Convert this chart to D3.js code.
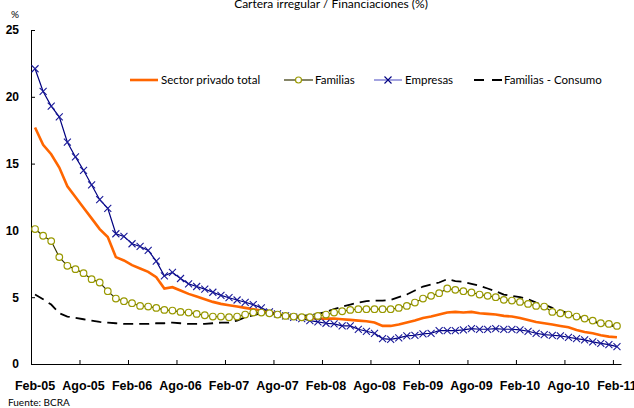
<!DOCTYPE html>
<html lang="es">
<head>
  <meta charset="UTF-8">
  <title>Cartera irregular / Financiaciones (%)</title>
  <script src="https://d3js.org/d3.v7.min.js"></script>
  <style>
    body { margin: 0; background: white; }
    svg { display: block; font-family: Lato, "Open Sans", sans-serif; }
    .axis text { font-weight: bold; font-size: 12px; fill: #000; }
    .xlab text { font-size: 12.5px; }
    .axis path, .axis line { stroke: #000; stroke-width: 1; }
  </style>
</head>
<body>
  <svg id="chart" width="634" height="408"></svg>
  <script>
    // Monthly series Feb-05 .. Feb-11 (73 months)
    const monthNames = ["Ene", "Feb", "Mar", "Abr", "May", "Jun", "Jul", "Ago", "Sep", "Oct", "Nov", "Dic"];
    const months = d3.range(73).map(i => {
      const m = (1 + i) % 12, yr = 5 + Math.floor((1 + i) / 12);
      return monthNames[m] + "-" + String(yr).padStart(2, "0");
    });
    const yTicks = [0, 5, 10, 15, 20, 25];

    const sectorTotal = [17.7, 16.4, 15.7, 14.7, 13.3, 12.5, 11.7, 10.9, 10.1, 9.5,
      8.0, 7.75, 7.4, 7.15, 6.9, 6.5, 5.65, 5.75, 5.5, 5.25,
      5.05, 4.85, 4.65, 4.5, 4.4, 4.3, 4.2, 4.1, 4.0, 3.9,
      3.75, 3.6, 3.55, 3.5, 3.45, 3.4, 3.4, 3.4, 3.35, 3.3,
      3.25, 3.2, 3.1, 2.85, 2.85, 2.95, 3.1, 3.25, 3.45, 3.55,
      3.7, 3.85, 3.9, 3.85, 3.9, 3.8, 3.75, 3.7, 3.6, 3.55,
      3.45, 3.3, 3.15, 3.05, 2.95, 2.85, 2.75, 2.55, 2.4, 2.3,
      2.15, 2.05, 2.0];
    const familias = [10.1, 9.6, 9.2, 8.0, 7.35, 7.1, 6.8, 6.35, 6.1, 5.45,
      4.9, 4.7, 4.55, 4.35, 4.3, 4.2, 4.05, 4.0, 3.9, 3.85,
      3.75, 3.65, 3.55, 3.55, 3.5, 3.55, 3.7, 3.85, 3.85, 3.8,
      3.7, 3.6, 3.55, 3.5, 3.5, 3.6, 3.7, 3.85, 3.95, 4.05,
      4.1, 4.1, 4.1, 4.1, 4.1, 4.2, 4.35, 4.6, 4.9, 5.1,
      5.3, 5.65, 5.55, 5.45, 5.35, 5.2, 5.1, 5.0, 4.8, 4.75,
      4.65, 4.5, 4.35, 4.3, 3.9, 3.8, 3.7, 3.55, 3.4, 3.25,
      3.05, 3.0, 2.85];
    const empresas = [22.1, 20.4, 19.3, 18.5, 16.6, 15.5, 14.5, 13.4, 12.3, 11.65,
      9.75, 9.55, 9.0, 8.8, 8.5, 7.7, 6.6, 6.85, 6.4, 6.0,
      5.8, 5.6, 5.37, 5.14, 4.96, 4.79, 4.62, 4.45, 4.2, 3.9,
      3.75, 3.6, 3.5, 3.4, 3.25, 3.15, 3.05, 3.0, 2.85, 2.85,
      2.6, 2.45, 2.3, 1.9, 1.85, 1.95, 2.1, 2.15, 2.25, 2.3,
      2.5, 2.5, 2.5, 2.55, 2.65, 2.6, 2.6, 2.65, 2.6, 2.6,
      2.55, 2.45, 2.3, 2.2, 2.15, 2.1, 2.0, 1.9, 1.8, 1.65,
      1.55, 1.45, 1.3];
    const consumo = [5.2, 4.85, 4.45, 3.8, 3.55, 3.45, 3.35, 3.25, 3.15, 3.1,
      3.05, 3.0, 3.0, 3.0, 3.0, 3.05, 3.05, 3.1, 3.05, 3.0,
      3.0, 3.0, 3.05, 3.1, 3.1, 3.25, 3.5, 3.65, 3.8, 3.8,
      3.7, 3.65, 3.6, 3.6, 3.65, 3.75, 3.9, 4.1, 4.3, 4.45,
      4.6, 4.7, 4.75, 4.75, 4.8, 5.0, 5.2, 5.5, 5.8, 5.95,
      6.1, 6.35, 6.2, 6.15, 6.0, 5.85, 5.65, 5.45, 5.2, 5.1,
      5.0, 4.85, 4.6, 4.45, 4.2, 4.0, 3.8, 3.6, 3.4, 3.2,
      3.0, 2.9, 2.8];

    const svg = d3.select("#chart");
    const plotLeft = 31, plotRight = 621, plotTop = 30, plotBottom = 364;

    const x = d3.scaleBand().domain(months).range([plotLeft, plotRight]).paddingInner(0).paddingOuter(0);
    const xIdx = d3.scaleLinear().domain([0, months.length]).range([plotLeft, plotRight]);
    const y = d3.scaleLinear().domain([0, 25]).range([plotBottom, plotTop]);
    const cx = (d, i) => x(months[i]) + x.bandwidth() / 2;

    // Title (top edge clipped in the source image)
    svg.append("text").attr("x", 331).attr("y", 8).attr("text-anchor", "middle")
      .attr("font-size", 12).text("Cartera irregular / Financiaciones (%)");
    svg.append("text").attr("x", 15).attr("y", 18).attr("text-anchor", "middle")
      .attr("font-size", 10).text("%");

    // Y axis: ticks point inward
    svg.append("g").attr("class", "axis").attr("transform", `translate(${plotLeft},0)`)
      .call(d3.axisLeft(y).tickValues(yTicks).tickSizeInner(-4).tickSizeOuter(0).tickPadding(12));

    // X axis: tick marks on category boundaries every 6 months
    const tickIdx = d3.range(0, months.length, 6);
    svg.append("g").attr("class", "axis").attr("transform", `translate(0,${plotBottom})`)
      .call(d3.axisBottom(xIdx).tickValues(tickIdx).tickSizeInner(-4).tickSizeOuter(0).tickFormat(""));
    // X labels centred on the category
    svg.append("g").attr("class", "axis xlab").attr("transform", `translate(0,${plotBottom})`)
      .call(d3.axisBottom(x).tickValues(tickIdx.map(i => months[i])).tickSize(0).tickPadding(17))
      .call(g => g.select(".domain").remove());

    svg.append("text").attr("x", 8).attr("y", 406).attr("font-size", 10).text("Fuente: BCRA");

    const line = d3.line().x(cx).y(d => y(d));

    // Familias - Consumo (dashed)
    svg.append("path").datum(consumo).attr("d", line).attr("fill", "none")
      .attr("stroke", "#000").attr("stroke-width", 1.8).attr("stroke-dasharray", "10,6");

    // Sector privado total
    svg.append("path").datum(sectorTotal).attr("d", line).attr("fill", "none")
      .attr("stroke", "#ff6600").attr("stroke-width", 2.6);

    // Empresas with x markers
    svg.append("path").datum(empresas).attr("d", line).attr("fill", "none")
      .attr("stroke", "#000080").attr("stroke-width", 1.2);
    svg.append("g").selectAll("path").data(empresas).join("path")
      .attr("transform", (d, i) => `translate(${cx(d, i)},${y(d)})`)
      .attr("d", "M-3.5,-3.5L3.5,3.5M-3.5,3.5L3.5,-3.5")
      .attr("stroke", "#1a1a99").attr("stroke-width", 1.1);

    // Familias with open circles
    svg.append("path").datum(familias).attr("d", line).attr("fill", "none")
      .attr("stroke", "#333300").attr("stroke-width", 1.2);
    svg.append("g").selectAll("circle").data(familias).join("circle")
      .attr("cx", cx).attr("cy", d => y(d)).attr("r", 3.3)
      .attr("fill", "#fff").attr("stroke", "#999900").attr("stroke-width", 1.2);

    // Legend
    const lg = svg.append("g").attr("font-size", 11.5);
    const ly = 80;
    lg.append("line").attr("x1", 130).attr("x2", 158).attr("y1", ly).attr("y2", ly)
      .attr("stroke", "#ff6600").attr("stroke-width", 2.6);
    lg.append("text").attr("x", 161).attr("y", ly).attr("dy", "0.35em").text("Sector privado total");

    lg.append("line").attr("x1", 284).attr("x2", 313).attr("y1", ly).attr("y2", ly)
      .attr("stroke", "#333300").attr("stroke-width", 1.2);
    lg.append("circle").attr("cx", 298.5).attr("cy", ly).attr("r", 3)
      .attr("fill", "#fff").attr("stroke", "#999900").attr("stroke-width", 1.2);
    lg.append("text").attr("x", 315).attr("y", ly).attr("dy", "0.35em").text("Familias");

    lg.append("line").attr("x1", 374).attr("x2", 402).attr("y1", ly).attr("y2", ly)
      .attr("stroke", "#6666cc").attr("stroke-width", 1.2);
    lg.append("path").attr("transform", `translate(388,${ly})`)
      .attr("d", "M-3.5,-3.5L3.5,3.5M-3.5,3.5L3.5,-3.5")
      .attr("stroke", "#000080").attr("stroke-width", 1.1);
    lg.append("text").attr("x", 405).attr("y", ly).attr("dy", "0.35em").text("Empresas");

    lg.append("line").attr("x1", 474).attr("x2", 502).attr("y1", ly).attr("y2", ly)
      .attr("stroke", "#000").attr("stroke-width", 1.8).attr("stroke-dasharray", "10,8");
    lg.append("text").attr("x", 504).attr("y", ly).attr("dy", "0.35em").text("Familias - Consumo");
  </script>
</body>
</html>
